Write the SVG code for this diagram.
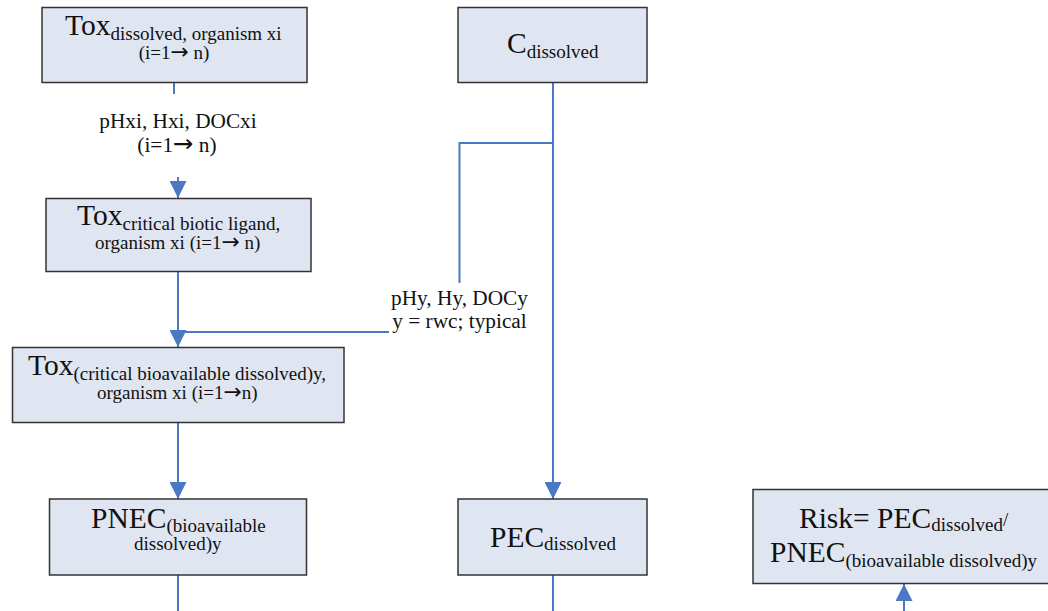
<svg xmlns="http://www.w3.org/2000/svg" width="1048" height="611" viewBox="0 0 1048 611">
<style>
.box{fill:#dfe6f1;stroke:#333;stroke-width:1.5}
text{font-family:"Liberation Serif","Times New Roman",serif;fill:#111}
.m{font-size:29.5px}
.s{font-size:19px}
.lbl{font-size:21.3px;text-anchor:middle}
.ar{font-family:"DejaVu Sans",sans-serif;font-size:1.15em}
.c{fill:none;stroke:#4a78c2;stroke-width:2}
</style>
<defs>
<marker id="ah" markerUnits="userSpaceOnUse" markerWidth="17" markerHeight="17" refX="17" refY="8.5" orient="auto">
<path d="M0,0 L17,8.5 L0,17 z" fill="#4a78c2"/>
</marker>
</defs>
<rect width="1048" height="611" fill="#fff"/>
<g id="connectors">
<line class="c" x1="174" y1="83" x2="174" y2="94"/>
<line class="c" x1="178" y1="177" x2="178" y2="198" marker-end="url(#ah)"/>
<line class="c" x1="178" y1="272" x2="178" y2="347" marker-end="url(#ah)"/>
<line class="c" x1="389" y1="332" x2="178" y2="332"/>
<polyline class="c" points="553,143 459.5,143 459.5,283"/>
<line class="c" x1="553" y1="83" x2="553" y2="499" marker-end="url(#ah)"/>
<line class="c" x1="178" y1="423" x2="178" y2="499" marker-end="url(#ah)"/>
<line class="c" x1="178" y1="575" x2="178" y2="611"/>
<line class="c" x1="553" y1="575" x2="553" y2="611"/>
<line class="c" x1="904" y1="611" x2="904" y2="584" marker-end="url(#ah)"/>
<text class="lbl" x="178" y="128">pHxi, Hxi, DOCxi</text>
<text class="lbl" x="177" y="152">(i=1<tspan class="ar">→</tspan> n)</text>
<text class="lbl" x="459.5" y="305">pHy, Hy, DOCy</text>
<text class="lbl" x="459.5" y="328">y = rwc; typical</text>
</g>
<g id="tox-dissolved">
<rect class="box" x="42" y="7.5" width="265" height="75"/>
<text x="65" y="35"><tspan class="m">Tox</tspan><tspan class="s" y="40">dissolved, organism xi</tspan></text>
<text class="s" x="174" y="59" text-anchor="middle">(i=1<tspan class="ar">→</tspan> n)</text>
</g>
<g id="tox-critical-bl">
<rect class="box" x="46" y="198.5" width="265" height="73"/>
<text x="77" y="225"><tspan class="m">Tox</tspan><tspan class="s" y="230">critical  biotic ligand,</tspan></text>
<text class="s" x="95" y="249">organism xi (i=1<tspan class="ar">→</tspan> n)</text>
</g>
<g id="tox-critical-bd">
<rect class="box" x="12.5" y="347.5" width="331.5" height="75"/>
<text x="28" y="375"><tspan class="m">Tox</tspan><tspan class="s" y="380">(critical bioavailable dissolved)y,</tspan></text>
<text class="s" x="97" y="399">organism xi (i=1<tspan class="ar">→</tspan>n)</text>
</g>
<g id="pnec">
<rect class="box" x="49.5" y="499" width="257" height="76"/>
<text x="91" y="528"><tspan class="m">PNEC</tspan><tspan class="s" y="532">(bioavailable</tspan></text>
<text class="s" x="134" y="550">dissolved)y</text>
</g>
<g id="c-dissolved">
<rect class="box" x="458" y="7.5" width="189" height="75"/>
<text x="507" y="53"><tspan class="m">C</tspan><tspan class="s" y="58">dissolved</tspan></text>
</g>
<g id="pec">
<rect class="box" x="458" y="499" width="189" height="76"/>
<text x="490" y="547"><tspan class="m">PEC</tspan><tspan class="s" y="550">dissolved</tspan></text>
</g>
<g id="risk">
<rect class="box" x="753" y="489.5" width="310" height="94"/>
<text x="799" y="528"><tspan class="m">Risk= PEC</tspan><tspan class="s" y="531">dissolved</tspan><tspan class="s" y="526">/</tspan></text>
<text x="770" y="562"><tspan class="m">PNEC</tspan><tspan class="s" y="567">(bioavailable  dissolved)y</tspan></text>
</g>
</svg>
